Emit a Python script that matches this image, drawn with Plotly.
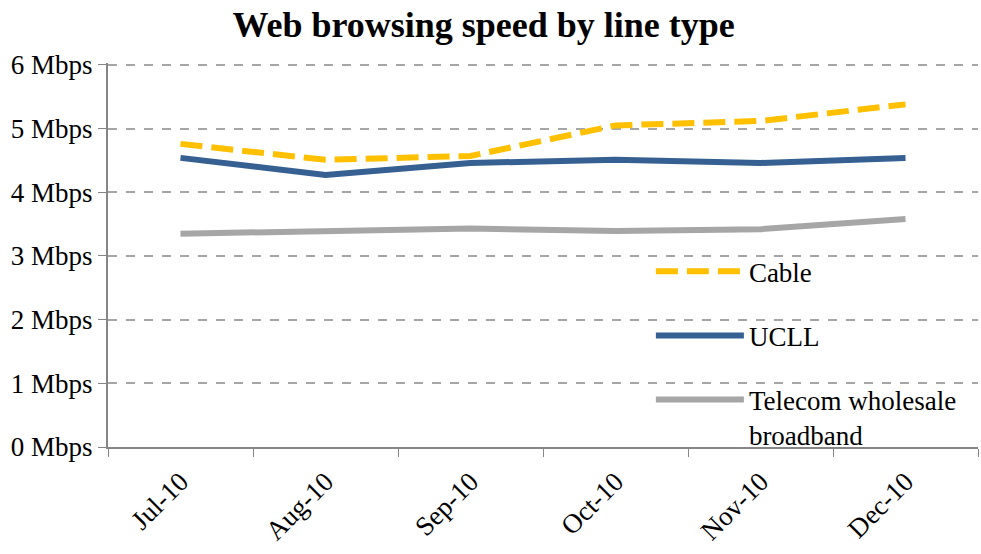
import plotly.graph_objects as go

months = ["Jul-10", "Aug-10", "Sep-10", "Oct-10", "Nov-10", "Dec-10"]
cable = [4.76, 4.51, 4.57, 5.05, 5.12, 5.38]
ucll = [4.54, 4.27, 4.46, 4.51, 4.46, 4.54]
telecom = [3.35, 3.39, 3.43, 3.39, 3.42, 3.58]
y_ticks = [0, 1, 2, 3, 4, 5, 6]

FONT = "Liberation Serif, Times New Roman, serif"
FS = 27

fig = go.Figure()
fig.add_trace(go.Scatter(x=months, y=cable, mode="lines", name="Cable", legendgroup="a",
                         line=dict(color="#FFC000", width=6, dash="22px,9px")))
fig.add_trace(go.Scatter(x=months, y=ucll, mode="lines", name="UCLL", legendgroup="b",
                         line=dict(color="#366092", width=6)))
fig.add_trace(go.Scatter(x=months, y=telecom, mode="lines", name="Telecom wholesale<br>broadband",
                         legendgroup="c", line=dict(color="#A6A6A6", width=6)))

fig.update_layout(
    width=981, height=554,
    margin=dict(l=108, r=3, t=63, b=107),
    paper_bgcolor="white", plot_bgcolor="white",
    font=dict(family=FONT, size=FS, color="black"),
    title=dict(text="<b>Web browsing speed by line type</b>", x=0.493, xanchor="center",
               y=0.978, yanchor="top", font=dict(size=36, family=FONT)),
    showlegend=True,
    legend=dict(x=0.624, y=0.52, xanchor="left", yanchor="top", bgcolor="rgba(0,0,0,0)",
                itemwidth=88, traceorder="grouped", tracegroupgap=26, valign="top",
                font=dict(size=FS, family=FONT)),
    xaxis=dict(type="category", range=[-0.5, 5.5], tickangle=-45, tickson="boundaries",
               ticks="outside", ticklen=8, tickcolor="#868686", showline=True,
               linecolor="#868686", linewidth=2, showgrid=False, ticklabelstandoff=6,
               tickfont=dict(size=FS, family=FONT)),
    yaxis=dict(range=[0, 6.03], tickvals=y_ticks, ticktext=[f"{v} Mbps" for v in y_ticks],
               ticks="outside", ticklen=8, tickcolor="#868686", showline=True,
               linecolor="#868686", linewidth=2, showgrid=True, gridcolor="#A6A6A6",
               griddash="dash", gridwidth=2, zeroline=False,
               tickfont=dict(size=FS, family=FONT)),
)

fig.write_html("out.html")
